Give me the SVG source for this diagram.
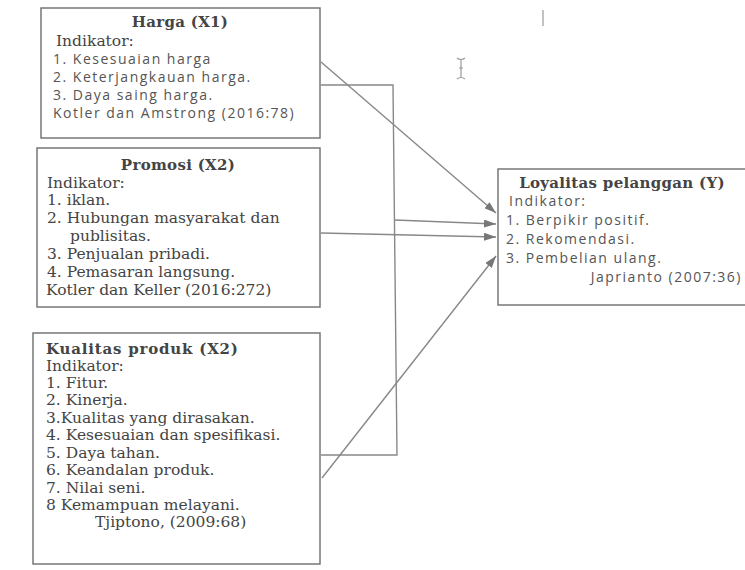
<svg xmlns="http://www.w3.org/2000/svg" width="745" height="570" viewBox="0 0 745 570">
<defs>
<marker id="ah" viewBox="0 0 12 8" refX="12" refY="4" markerWidth="12" markerHeight="8" markerUnits="userSpaceOnUse" orient="auto">
<path d="M0,0 L12,4 L0,8 Z" fill="#777"/>
</marker>
<style>
.box{fill:#fff;stroke:#777;stroke-width:1.5}
.ttl{font-family:"DejaVu Serif","Liberation Serif",serif;font-weight:bold;font-size:15px;fill:#444;letter-spacing:0.3px}
.ser{font-family:"DejaVu Serif","Liberation Serif",serif;font-size:15.5px;fill:#444}
.san{font-family:"Open Sans","DejaVu Sans",sans-serif;font-size:14px;fill:#555;letter-spacing:1.5px}
.ln{fill:none;stroke:#888;stroke-width:1.4}
.mk{fill:none;stroke:#999;stroke-width:1.2}
</style>
</defs>
<rect width="745" height="570" fill="#fff"/>
<g id="artifacts">
<path class="mk" d="M543,10 V26"/>
<path class="mk" d="M457,58 Q461,61 465,58 M461,60 V77 M457,79 Q461,76 465,79 M459,68 H463"/>
</g>
<g id="connectors">
<path class="ln" d="M321,62 L496,213" marker-end="url(#ah)"/>
<path class="ln" d="M321,85 L393,85 L397,455 L321,455"/>
<path class="ln" d="M395,220 L496,224" marker-end="url(#ah)"/>
<path class="ln" d="M321,233 L496,237" marker-end="url(#ah)"/>
<path class="ln" d="M322,478 L496,256" marker-end="url(#ah)"/>
</g>
<g id="harga">
<rect class="box" x="41" y="8" width="279" height="130"/>
<text class="ttl" x="180" y="27" text-anchor="middle">Harga (X1)</text>
<text class="ser" x="56" y="46">Indikator:</text>
<text class="san" x="53" y="64">1. Kesesuaian harga</text>
<text class="san" x="53" y="82">2. Keterjangkauan harga.</text>
<text class="san" x="53" y="100">3. Daya saing harga.</text>
<text class="san" x="53" y="118">Kotler dan Amstrong (2016:78)</text>
</g>
<g id="promosi">
<rect class="box" x="37" y="148" width="283" height="159"/>
<text class="ttl" x="178" y="170" text-anchor="middle">Promosi (X2)</text>
<text class="ser" x="47" y="188">Indikator:</text>
<text class="ser" x="47" y="205">1. iklan.</text>
<text class="ser" x="47" y="223">2. Hubungan masyarakat dan</text>
<text class="ser" x="70" y="241">publisitas.</text>
<text class="ser" x="47" y="259">3. Penjualan pribadi.</text>
<text class="ser" x="47" y="277">4. Pemasaran langsung.</text>
<text class="ser" x="46" y="295">Kotler dan Keller (2016:272)</text>
</g>
<g id="kualitas">
<rect class="box" x="33" y="333" width="287" height="231"/>
<text class="ttl" x="46" y="354" style="letter-spacing:0.8px">Kualitas produk (X2)</text>
<text class="ser" x="46" y="371">Indikator:</text>
<text class="ser" x="46" y="388">1. Fitur.</text>
<text class="ser" x="46" y="405">2. Kinerja.</text>
<text class="ser" x="46" y="423">3.Kualitas yang dirasakan.</text>
<text class="ser" x="46" y="440">4. Kesesuaian dan spesifikasi.</text>
<text class="ser" x="46" y="458">5. Daya tahan.</text>
<text class="ser" x="46" y="475">6. Keandalan produk.</text>
<text class="ser" x="46" y="493">7. Nilai seni.</text>
<text class="ser" x="46" y="510">8 Kemampuan melayani.</text>
<text class="ser" x="95" y="527">Tjiptono, (2009:68)</text>
</g>
<g id="loyalitas">
<rect class="box" x="498" y="169" width="250" height="136"/>
<text class="ttl" x="622" y="188" text-anchor="middle">Loyalitas pelanggan (Y)</text>
<text class="san" x="509" y="206">Indikator:</text>
<text class="san" x="506" y="225">1. Berpikir positif.</text>
<text class="san" x="506" y="244">2. Rekomendasi.</text>
<text class="san" x="506" y="263">3. Pembelian ulang.</text>
<text class="san" x="742" y="282" text-anchor="end">Japrianto (2007:36)</text>
</g>
</svg>
